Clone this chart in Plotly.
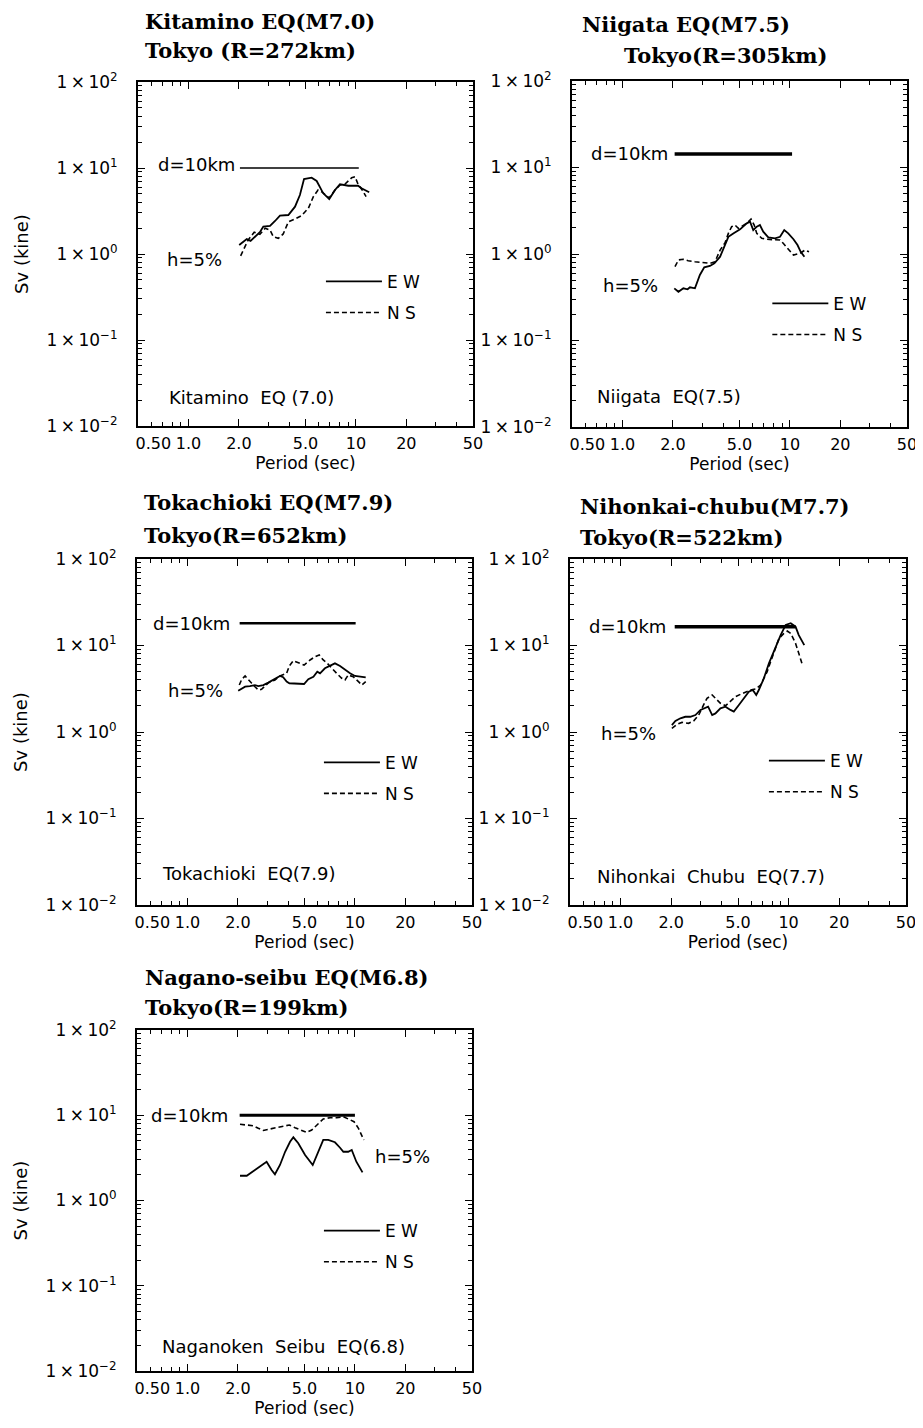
import plotly.graph_objects as go

# page body adds an 8 px margin around the figure; compensate for it
OFF = 8
W, H = 923 - OFF, 1428 - OFF

# ---------------- data ----------------
kit_ew_T = [2.01, 2.23, 2.35, 2.67, 2.80, 3.07, 3.29, 3.52, 3.95, 4.33, 4.63, 4.90, 5.44, 5.83, 6.38, 6.93, 7.50, 8.03, 9.01, 10.3, 10.8, 12.0]
kit_ew_Sv = [1.27, 1.49, 1.42, 1.79, 2.08, 2.12, 2.42, 2.79, 2.84, 3.55, 4.85, 7.45, 7.71, 7.06, 5.08, 4.36, 5.55, 6.46, 6.22, 6.22, 5.81, 5.22]
kit_ns_T = [2.05, 2.15, 2.27, 2.47, 2.67, 2.87, 3.07, 3.21, 3.44, 3.68, 3.95, 4.33, 4.74, 5.20, 5.57, 5.94, 6.28, 6.92, 7.50, 8.03, 8.61, 9.44, 9.88, 10.3, 10.9, 11.5]
kit_ns_Sv = [0.95, 1.17, 1.45, 1.79, 1.69, 1.99, 1.90, 1.59, 1.52, 1.71, 2.36, 2.55, 2.80, 3.40, 4.64, 5.55, 5.26, 4.48, 5.55, 6.34, 6.51, 7.71, 7.92, 6.46, 5.55, 4.64]

nii_ew_T = [2.04, 2.16, 2.31, 2.45, 2.53, 2.71, 2.90, 3.08, 3.33, 3.54, 3.83, 4.10, 4.29, 4.59, 5.04, 5.52, 5.78, 6.04, 6.34, 6.62, 6.93, 7.43, 8.15, 8.73, 9.25, 9.77, 10.5, 11.1, 11.6, 12.2]
nii_ew_Sv = [0.401, 0.366, 0.401, 0.391, 0.412, 0.401, 0.572, 0.702, 0.727, 0.780, 0.931, 1.27, 1.58, 1.73, 1.93, 2.26, 2.36, 1.89, 2.07, 2.16, 1.81, 1.56, 1.52, 1.58, 1.89, 1.73, 1.48, 1.27, 1.06, 0.931]
nii_ns_T = [2.06, 2.16, 2.31, 2.47, 2.71, 2.97, 3.33, 3.57, 3.83, 4.10, 4.29, 4.49, 4.70, 4.92, 5.52, 5.86, 6.12, 6.34, 6.79, 7.26, 8.15, 8.73, 9.12, 9.77, 10.5, 11.5, 12.3, 13.0]
nii_ns_Sv = [0.713, 0.853, 0.869, 0.837, 0.815, 0.802, 0.780, 0.815, 1.11, 1.35, 1.73, 2.07, 2.16, 1.98, 2.26, 2.54, 2.16, 1.73, 1.52, 1.48, 1.45, 1.45, 1.33, 1.13, 0.973, 1.02, 1.11, 1.06]

tok_ew_T = [2.01, 2.21, 2.36, 2.53, 2.65, 2.84, 3.04, 3.33, 3.57, 3.73, 3.91, 4.06, 4.49, 4.97, 5.27, 5.65, 5.96, 6.19, 6.62, 7.10, 7.60, 8.15, 8.73, 9.35, 10.0, 10.7, 11.6]
tok_ew_Sv = [3.00, 3.34, 3.40, 3.49, 3.40, 3.49, 3.72, 4.07, 4.44, 4.29, 3.82, 3.66, 3.59, 3.59, 4.07, 4.36, 4.98, 4.77, 5.45, 5.79, 6.22, 5.79, 5.21, 4.77, 4.44, 4.36, 4.29]
tok_ns_T = [2.04, 2.11, 2.21, 2.31, 2.42, 2.53, 2.65, 2.77, 3.04, 3.33, 3.57, 3.91, 4.06, 4.29, 4.70, 4.97, 5.40, 5.78, 6.12, 6.47, 6.84, 7.26, 7.78, 8.34, 8.73, 9.12, 9.77, 10.5, 11.0, 11.6]
tok_ns_Sv = [3.49, 4.07, 4.44, 3.99, 3.66, 3.34, 3.06, 3.12, 3.70, 3.99, 4.44, 4.77, 5.79, 6.67, 6.22, 5.95, 6.80, 7.42, 7.77, 6.80, 6.22, 5.45, 4.77, 4.18, 3.99, 4.56, 4.36, 3.82, 3.49, 3.82]

nih_ew_T = [2.02, 2.12, 2.27, 2.43, 2.60, 2.79, 2.99, 3.20, 3.32, 3.51, 3.67, 3.93, 4.21, 4.51, 4.72, 5.06, 5.42, 5.80, 6.12, 6.42, 6.65, 7.13, 7.64, 8.37, 8.97, 9.61, 10.3, 11.0, 11.5, 12.4]
nih_ew_Sv = [1.20, 1.34, 1.44, 1.50, 1.50, 1.57, 1.80, 1.91, 1.96, 1.57, 1.64, 1.88, 1.96, 1.80, 1.72, 2.05, 2.45, 2.92, 3.06, 2.68, 3.06, 4.18, 6.22, 9.68, 13.2, 17.3, 18.1, 16.5, 13.2, 10.1]
nih_ns_T = [2.02, 2.17, 2.32, 2.54, 2.72, 2.92, 3.13, 3.27, 3.51, 3.67, 3.93, 4.21, 4.51, 4.83, 5.18, 5.55, 5.94, 6.36, 6.81, 7.13, 7.46, 7.82, 8.37, 8.77, 9.38, 9.83, 10.3, 11.0, 11.5, 12.1]
nih_ns_Sv = [1.10, 1.23, 1.29, 1.26, 1.34, 1.57, 2.09, 2.45, 2.68, 2.45, 2.15, 2.01, 2.28, 2.56, 2.73, 2.92, 3.06, 3.14, 3.49, 4.18, 4.98, 6.50, 9.28, 12.1, 13.8, 14.7, 13.8, 10.6, 8.12, 5.95]

nag_ew_T = [2.06, 2.26, 2.53, 2.77, 2.97, 3.18, 3.33, 3.57, 3.83, 4.10, 4.29, 4.59, 5.04, 5.60, 5.92, 6.47, 6.93, 7.60, 8.15, 8.53, 9.12, 9.57, 10.2, 11.1]
nag_ew_Sv = [1.95, 1.95, 2.28, 2.61, 2.85, 2.28, 2.03, 2.61, 3.73, 4.89, 5.51, 4.69, 3.42, 2.61, 3.42, 5.13, 5.13, 4.82, 4.16, 3.73, 3.73, 3.91, 2.85, 2.14]
nag_ns_T = [2.06, 2.26, 2.47, 2.65, 2.84, 3.11, 3.41, 3.73, 4.06, 4.39, 4.81, 5.15, 5.52, 5.96, 6.47, 7.10, 7.78, 8.53, 9.12, 9.88, 10.5, 11.0, 11.3]
nag_ns_Sv = [7.83, 7.69, 7.54, 7.03, 6.62, 6.90, 7.14, 7.48, 7.69, 7.14, 6.62, 6.28, 6.71, 7.83, 9.04, 9.36, 9.36, 9.62, 9.04, 8.40, 7.03, 5.87, 5.13]

# d = 10 km reference level (Sv) and its period span
d_level = [10.0, 14.3, 18.1, 16.5, 10.0]
d_T_start = [2.03, 2.05, 2.05, 2.1, 2.05]
d_T_end = [10.4, 10.3, 10.1, 11.0, 10.0]

title_line1 = ["Kitamino EQ(M7.0)", "Niigata EQ(M7.5)", "Tokachioki EQ(M7.9)",
               "Nihonkai-chubu(M7.7)", "Nagano-seibu EQ(M6.8)"]
title_line2 = ["Tokyo (R=272km)", "Tokyo(R=305km)", "Tokyo(R=652km)",
               "Tokyo(R=522km)", "Tokyo(R=199km)"]
event_labels = ["Kitamino\u00a0 EQ (7.0)", "Niigata\u00a0 EQ(7.5)", "Tokachioki\u00a0 EQ(7.9)",
                "Nihonkai\u00a0 Chubu\u00a0 EQ(7.7)", "Naganoken\u00a0 Seibu\u00a0 EQ(6.8)"]

x_tickvals = [0.5, 1, 2, 5, 10, 20, 50]
x_ticktext = ["\u2007\u2007\u20070.50", "1.0", "2.0", "5.0", "10", "20", "50"]
y_tickvals = [0.01, 0.1, 1, 10, 100]
y_ticktext = ["1\u2009\u00d7\u200910<sup>\u22122</sup>", "1\u2009\u00d7\u200910<sup>\u22121</sup>",
              "1\u2009\u00d7\u200910<sup>0</sup>", "1\u2009\u00d7\u200910<sup>1</sup>",
              "1\u2009\u00d7\u200910<sup>2</sup>"]

series = [
    (kit_ew_T, kit_ew_Sv, kit_ns_T, kit_ns_Sv),
    (nii_ew_T, nii_ew_Sv, nii_ns_T, nii_ns_Sv),
    (tok_ew_T, tok_ew_Sv, tok_ns_T, tok_ns_Sv),
    (nih_ew_T, nih_ew_Sv, nih_ns_T, nih_ns_Sv),
    (nag_ew_T, nag_ew_Sv, nag_ns_T, nag_ns_Sv),
]

# ---------------- layout geometry (page pixels) ----------------
boxes = [  # left, right, top, bottom
    (138, 473, 82, 426),
    (572, 907, 81, 427),
    (137, 472, 559, 905),
    (570, 906, 559, 905),
    (137, 472, 1030, 1371),
]
title_pos = [((143, 22), (143, 51)), ((580, 25), (622, 56)), ((142, 503), (142, 535)),
             ((578, 507), (578, 538)), ((143, 977), (143, 1008))]
d_lab = [(0.296, 0.759), (0.293, 0.790), (0.283, 0.814), (0.293, 0.806), (0.278, 0.749)]
h_lab = [(0.257, 0.485, "right"), (0.263, 0.410, "right"), (0.263, 0.621, "right"),
         (0.263, 0.496, "right"), (0.705, 0.628, "left")]
ev_lab = [(0.087, 0.084), (0.069, 0.088), (0.069, 0.092), (0.074, 0.082), (0.069, 0.071)]
leg_pos = [(0.564, 0.422), (0.601, 0.359), (0.561, 0.414), (0.595, 0.419), (0.561, 0.413)]
d_width = [1.5, 3.5, 2.5, 3.5, 3.0]


def px_x(p):
    return (p - OFF) / W


def px_y(p):
    return 1 - (p - OFF) / H


minor_y = [k * 10 ** e for e in range(-2, 2) for k in range(2, 10)]
minor_x = [0.6, 0.7, 0.8, 0.9, 3, 4, 6, 7, 8, 9, 30, 40]

FONT = "DejaVu Sans"
fig = go.Figure()
layout = dict(width=W, height=H, margin=dict(l=0, r=0, t=0, b=0, autoexpand=False),
              paper_bgcolor="white", plot_bgcolor="white",
              font=dict(family=FONT, size=17, color="black"))
annotations = []

for i, (box, ser) in enumerate(zip(boxes, series)):
    n = i + 1
    sfx = "" if n == 1 else str(n)
    L, R, T, B = box
    xd = [px_x(L), px_x(R)]
    yd = [px_y(B), px_y(T)]
    xa, ya = "x" + sfx, "y" + sfx
    lg = "legend" + sfx
    ew_T, ew_S, ns_T, ns_S = ser

    fig.add_trace(go.Scatter(x=[d_T_start[i], d_T_end[i]], y=[d_level[i], d_level[i]],
                             mode="lines", line=dict(color="black", width=d_width[i]),
                             showlegend=False, xaxis=xa, yaxis=ya, hoverinfo="skip"))
    fig.add_trace(go.Scatter(x=ew_T, y=ew_S, mode="lines", name="E W",
                             line=dict(color="black", width=1.8),
                             legend=lg, legendgroup="ew" + sfx, xaxis=xa, yaxis=ya))
    fig.add_trace(go.Scatter(x=ns_T, y=ns_S, mode="lines", name="N S",
                             line=dict(color="black", width=1.6, dash="5px,3px"),
                             legend=lg, legendgroup="ns" + sfx, xaxis=xa, yaxis=ya))

    common = dict(type="log", showline=True, linewidth=2, linecolor="black",
                  mirror="allticks", ticks="inside", ticklen=7, tickwidth=1.2,
                  tickcolor="black", showgrid=False, zeroline=False, automargin=False,
                  tickfont=dict(family=FONT, size=16, color="black"))
    layout["xaxis" + sfx] = dict(common, domain=xd, anchor=ya, range=[-0.30103, 1.69897],
                                 tickmode="array", tickvals=x_tickvals, ticktext=x_ticktext,
                                 tickangle=0, ticklabelstandoff=2,
                                 minor=dict(tickmode="array", tickvals=minor_x, ticklen=4,
                                            ticks="inside", tickcolor="black", tickwidth=1),
                                 title=dict(text="Period (sec)", standoff=0,
                                            font=dict(family=FONT, size=17)))
    ydict = dict(common, domain=yd, anchor=xa, range=[-2, 2],
                 tickmode="array", tickvals=y_tickvals, ticktext=y_ticktext,
                 ticklabelstandoff=15,
                 tickfont=dict(family=FONT, size=17, color="black"),
                 minor=dict(tickmode="array", tickvals=minor_y, ticklen=4,
                            ticks="inside", tickcolor="black", tickwidth=1))
    if n in (1, 3, 5):
        ydict["title"] = dict(text="Sv (kine)", standoff=13, font=dict(family=FONT, size=18))
    layout["yaxis" + sfx] = ydict

    # legend inside the panel
    fx, fy = leg_pos[i]
    lx = L + fx * (R - L) - 6
    ly = B - fy * (B - T) - 17
    layout[lg] = dict(x=px_x(lx), y=px_y(ly),
                      xanchor="left", yanchor="top", bgcolor="rgba(0,0,0,0)",
                      font=dict(family=FONT, size=17, color="black"),
                      tracegroupgap=6, itemwidth=56)

    # titles
    for (tx, ty), txt in zip(title_pos[i], (title_line1[i], title_line2[i])):
        annotations.append(dict(text=txt, xref="paper", yref="paper", x=px_x(tx), y=px_y(ty),
                                xanchor="left", yanchor="middle", showarrow=False,
                                font=dict(family="DejaVu Serif", size=21, color="black",
                                          weight="bold")))
    dom = dict(xref=xa + " domain", yref=ya + " domain", showarrow=False,
               font=dict(family=FONT, size=18, color="black"))
    annotations.append(dict(dom, text="d=10km", x=d_lab[i][0], y=d_lab[i][1],
                            xanchor="right", yanchor="middle"))
    annotations.append(dict(dom, text="h=5%", x=h_lab[i][0], y=h_lab[i][1],
                            xanchor=h_lab[i][2], yanchor="middle"))
    annotations.append(dict(dom, text=event_labels[i], x=ev_lab[i][0], y=ev_lab[i][1],
                            xanchor="left", yanchor="middle"))

layout["annotations"] = annotations
fig.update_layout(**layout)
fig.write_html("out.html")
